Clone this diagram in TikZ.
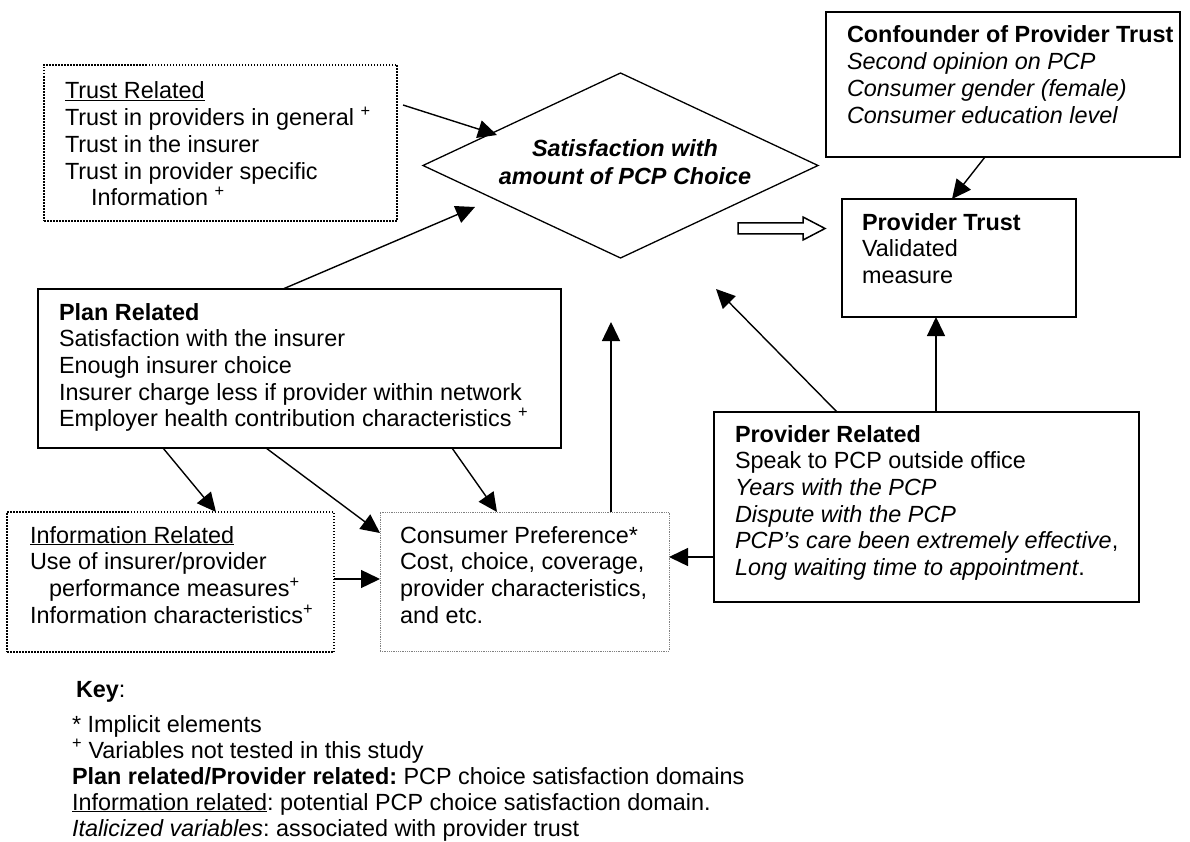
\documentclass[tikz,border=0pt]{standalone}
\usepackage{fontspec}
\setmainfont{Liberation Sans}
\usetikzlibrary{arrows.meta,shapes.geometric}
\frenchspacing
\newcommand\Lstack[1]{\vtop{\halign{##\hfil\cr#1\crcr}}}
\newcommand\Cstack[1]{\vtop{\halign{\hfil##\hfil\cr#1\crcr}}}
\begin{document}
\begin{tikzpicture}[x=1pt,y=-1pt,
  txt/.style={inner sep=0pt, outer sep=0pt, anchor=base west, font=\fontsize{23.4pt}{26.7pt}\selectfont},
  solidbox/.style={draw, line width=1.6pt, inner sep=0pt, outer sep=0pt},
  dotbox/.style={draw, line width=1.5pt, dash pattern=on 1.5pt off 1.5pt, inner sep=0pt, outer sep=0pt},
  thinbox/.style={draw, gray, line width=0.9pt, dash pattern=on 0.9pt off 0.9pt, inner sep=0pt, outer sep=0pt},
  arr/.style={line width=1.4pt, -{Triangle[length=19pt,width=18pt]}}]
\useasboundingbox (0,0) rectangle (1190,842);

% Trust related
\node[dotbox, minimum width=353pt, minimum height=156pt] (trust) at (220.5,143) {};
\node[txt] (trustT) at (65,99) {\Lstack{\underline{Trust Related}\cr Trust in providers in general \textsuperscript{+}\cr Trust in the insurer\cr Trust in provider specific\cr \hskip26pt Information \textsuperscript{+}}};

% Diamond
\node[diamond, draw, line width=1.3pt, minimum width=395pt, minimum height=185pt, inner sep=0pt, outer sep=0pt] (sat) at (620.5,165.5) {};
\node[txt, anchor=base, font=\fontsize{23.4pt}{28pt}\selectfont\bfseries\itshape] (satT) at (625,157) {\Cstack{Satisfaction with\cr amount of PCP Choice}};

% Confounder
\node[solidbox, minimum width=354pt, minimum height=145pt] (conf) at (1003,84.5) {};
\node[txt] (confT) at (847,43) {\Lstack{\textbf{Confounder of Provider Trust}\cr \textit{Second opinion on PCP}\cr \textit{Consumer gender (female)}\cr \textit{Consumer education level}}};

% Provider trust
\node[solidbox, minimum width=234pt, minimum height=118pt] (pt) at (959,258) {};
\node[txt] (ptT) at (862,230) {\Lstack{\textbf{Provider Trust}\cr Validated\cr measure}};

% Plan related
\node[solidbox, minimum width=523pt, minimum height=159pt] (plan) at (299.5,368.5) {};
\node[txt] (planT) at (59,320) {\Lstack{\textbf{Plan Related}\cr Satisfaction with the insurer\cr Enough insurer choice\cr Insurer charge less if provider within network\cr Employer health contribution characteristics \textsuperscript{+}}};

% Information related
\node[dotbox, minimum width=327pt, minimum height=140pt] (info) at (170.5,582) {};
\node[txt] (infoT) at (30,543) {\Lstack{\underline{Information Related}\cr Use of insurer/provider\cr \hskip19pt performance measures\textsuperscript{+}\cr Information characteristics\textsuperscript{+}}};

% Consumer preference
\node[thinbox, minimum width=289pt, minimum height=139pt] (cons) at (524.5,581.5) {};
\node[txt] (consT) at (400,543) {\Lstack{Consumer Preference*\cr Cost, choice, coverage,\cr provider characteristics,\cr and etc.}};

% Provider related
\node[solidbox, minimum width=425pt, minimum height=190pt] (prov) at (926.5,507) {};
\node[txt] (provT) at (735,442) {\Lstack{\textbf{Provider Related}\cr Speak to PCP outside office\cr \textit{Years with the PCP}\cr \textit{Dispute with the PCP}\cr \textit{PCP’s care been extremely effective},\cr \textit{Long waiting time to appointment}.}};

% Key
\node[txt] (keyT) at (76,697) {\textbf{Key}:};
\node[txt, font=\fontsize{23.4pt}{26pt}\selectfont] (keyL) at (72,732) {\Lstack{* Implicit elements\cr \textsuperscript{+} Variables not tested in this study\cr \textbf{Plan related/Provider related:} PCP choice satisfaction domains\cr \underline{Information related}: potential PCP choice satisfaction domain.\cr \textit{Italicized variables}: associated with provider trust}};

% hollow block arrow
\draw[line width=1.5pt, fill=white] (738,223) -- (803,223) -- (803,217) -- (825,228.5) -- (803,240) -- (803,234) -- (738,234) -- cycle;

% connector end points
\coordinate (a1s) at (403,105);  \coordinate (a1e) at (497,135);
\coordinate (a2s) at (283,289);  \coordinate (a2e) at (475,207);
\coordinate (a3s) at (985,157);  \coordinate (a3e) at (952,199);
\coordinate (a4s) at (611,512);  \coordinate (a4e) at (611,322);
\coordinate (a5s) at (837,412);  \coordinate (a5e) at (716,289);
\coordinate (a6s) at (936,412);  \coordinate (a6e) at (936,317);
\coordinate (a7s) at (714,557);  \coordinate (a7e) at (669,557);
\coordinate (a8s) at (163,448);  \coordinate (a8e) at (216,512);
\coordinate (a9s) at (266,448);  \coordinate (a9e) at (380,533);
\coordinate (a10s) at (452,448); \coordinate (a10e) at (497,512);
\coordinate (a11s) at (334,579); \coordinate (a11e) at (380,579);

\draw[arr] (a1s) -- (a1e);
\draw[arr] (a2s) -- (a2e);
\draw[arr] (a3s) -- (a3e);
\draw[arr] (a4s) -- (a4e);
\draw[arr] (a5s) -- (a5e);
\draw[arr] (a6s) -- (a6e);
\draw[arr] (a7s) -- (a7e);
\draw[arr] (a8s) -- (a8e);
\draw[arr] (a9s) -- (a9e);
\draw[arr] (a10s) -- (a10e);
\draw[arr] (a11s) -- (a11e);
\end{tikzpicture}
\end{document}
